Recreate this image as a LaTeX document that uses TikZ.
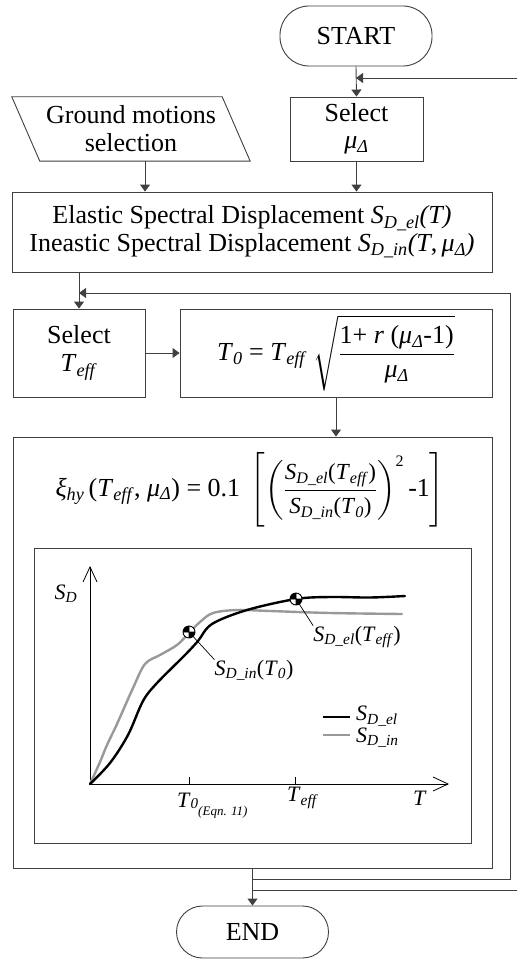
\documentclass[tikz,border=0pt]{standalone}
\usepackage{fontspec}
\usepackage{amsmath}
\setmainfont{Liberation Serif}
\usetikzlibrary{arrows.meta}
\newcommand{\SDel}{\textit{S}\textsubscript{\textit{D\_el}}}
\newcommand{\SDin}{\textit{S}\textsubscript{\textit{D\_in}}}
\newcommand{\Teff}{\textit{T}\textsubscript{\textit{eff}}}
\newcommand{\Tzero}{\textit{T}\textsubscript{\textit{0}}}
\newcommand{\muD}{\textit{μ}\textsubscript{\textit{Δ}}}
\definecolor{linec}{gray}{0.25}
\definecolor{curveg}{gray}{0.6}
\begin{document}
\begin{tikzpicture}[x=1pt,y=-1pt,
  line/.style={draw=linec, line width=0.9pt},
  arr/.style={line, -{Triangle[width=10pt,length=7pt]}},
  box/.style={line, rectangle, inner sep=0pt, align=center, font=\fontsize{26}{28}\selectfont},
  txt/.style={inner sep=0pt, align=center, font=\fontsize{26}{28}\selectfont},
  lab/.style={inner sep=0pt, font=\fontsize{22}{24}\selectfont},
  ax/.style={draw=black, line width=0.8pt, -{Straight Barb[length=15pt,width=14pt]}},
  curvek/.style={black, line width=2.4pt, line cap=round},
  curvegr/.style={curveg, line width=2.4pt, line cap=round},
  qmark/.pic={
    \fill[white] (0,0) circle[radius=6];
    \fill[black] (0,0) -- (-6,0) arc[start angle=180,end angle=270,radius=6] -- cycle;
    \fill[black] (0,0) -- (6,0) arc[start angle=0,end angle=90,radius=6] -- cycle;
    \draw[black, line width=0.9pt] (0,0) circle[radius=6] (-6,0) -- (6,0) (0,-6) -- (0,6);
  }
]
\useasboundingbox (0,0) rectangle (517,960);
\fill[white] (0,0) rectangle (517,960);

% flow nodes
\node[box, rounded corners=29pt, minimum width=152pt, minimum height=60pt] (start) at (356,36) {START};
\node[box, minimum width=133pt, minimum height=64pt] (selmu) at (356.5,129) {Select\\[-1pt]\muD};
\node[txt, minimum width=210pt, minimum height=64pt] (gm) at (131,129) {Ground motions\\selection};
\draw[line] ([xshift=-14pt]gm.north west) -- ([xshift=-14pt]gm.north east) -- ([xshift=14pt]gm.south east) -- ([xshift=14pt]gm.south west) -- cycle;
\node[box, minimum width=480pt, minimum height=80pt] (elastic) at (252,232) {Elastic Spectral Displacement \SDel\textit{(T)}\\Ineastic Spectral Displacement \SDin\textit{(T},\,\muD\textit{)}};
\node[box, minimum width=132pt, minimum height=88pt] (selT) at (79,353) {Select\\\Teff};
\node[box, minimum width=312pt, minimum height=88pt] (T0box) at (336,353) {$\text{\Tzero\ = \Teff}\ \sqrt{\dfrac{\text{1+ \textit{r} (\muD-1)}}{\text{\muD}}}$};
\node[box, minimum width=479pt, minimum height=431pt] (bigbox) at (252.5,652.5) {};
\node[txt] (xieq) at (250,490) {$\text{\textit{ξ}\textsubscript{\textit{hy}}\,(\Teff, \muD) = 0.1}\ \left[\left(\dfrac{\text{\fontsize{23}{25}\selectfont\SDel(\Teff)}}{\text{\fontsize{23}{25}\selectfont\SDin(\Tzero)}}\right)^{\text{\fontsize{16}{16}\selectfont 2}}\text{-1}\right]$};
\node[box, minimum width=152pt, minimum height=52pt, rounded corners=26pt] (end) at (252.5,932) {END};

% connectors
\coordinate (fbin) at (517,78);
\coordinate (fbout) at (517,890);
\coordinate (j1) at (252.5,879);
\coordinate (j2) at (252.5,890);
\coordinate (rc) at (510,293);
\draw[arr] (start.south) -- (selmu.north);
\draw[arr] (fbin) -- (fbin -| start.south);
\draw[arr] ([xshift=14pt]gm.south) -- ([xshift=14pt]gm.south |- elastic.north);
\draw[arr] (selmu.south) -- (selmu.south |- elastic.north);
\draw[arr] (elastic.south -| selT.north) -- (selT.north);
\draw[arr] (j1) -| (rc) -- (rc -| selT.north);
\draw[arr] (selT.east) -- (T0box.west);
\draw[arr] (T0box.south) -- (T0box.south |- bigbox.north);
\draw[arr] (bigbox.south) -- (end.north);
\draw[line] (j2) -- (fbout);

% plot
\node[line, rectangle, inner sep=0pt, minimum width=437pt, minimum height=295pt] (plotbox) at (252.5,695.5) {};
\coordinate (O) at (90,784);
\coordinate (ytop) at (90,566);
\coordinate (xend) at (449,784);
\draw[ax] (O) -- (ytop);
\draw[ax] (O) -- (xend);
\draw[black, line width=0.8pt] (189,784) -- (189,777) (295,784) -- (295,777);

\draw[curvegr] plot[smooth, tension=0.55] coordinates {(90,784) (100,762) (107,745) (117,724) (133,688) (145,664) (160,655) (177,645) (189,633) (200,622) (213,613) (237,610) (270,611) (330,613) (402,614)};
\draw[curvek] plot[smooth, tension=0.55] coordinates {(90,784) (110,763) (128,735) (143,701) (157,683) (185,655) (198,641) (212,624) (247,610) (296,599) (330,597) (370,597.5) (405,596)};

\coordinate (m1) at (189,632);
\coordinate (m2) at (296,599);
\node[lab] (lin) at (254,670) {\SDin(\Tzero)};
\node[lab] (lel) at (357,637) {\SDel(\Teff)};
\draw[black, line width=0.7pt] (m1) -- (lin.north west);
\draw[black, line width=0.7pt] (m2) -- (lel.north west);
\pic at (m1) {qmark};
\pic at (m2) {qmark};

\coordinate (lg1a) at (323,717);
\coordinate (lg1b) at (350,717);
\coordinate (lg2a) at (323,735);
\coordinate (lg2b) at (350,735);
\draw[curvek, line cap=butt] (lg1a) -- (lg1b);
\draw[curvegr, line cap=butt] (lg2a) -- (lg2b);
\node[lab, anchor=west] (leg1) at (356,716) {\SDel};
\node[lab, anchor=west] (leg2) at (356,738) {\SDin};

\node[lab] (sdl) at (66,594) {\textit{S}\textsubscript{\textit{D}}};
\node[lab, anchor=base west] (t0l) at (177,807) {\textit{T}\raisebox{-1pt}{\fontsize{15}{15}\selectfont\textit{0}}\raisebox{-8pt}{\fontsize{13}{13}\selectfont\textit{(Eqn. 11)}}};
\node[lab, anchor=west] (teffl) at (287,798) {\Teff};
\node[lab] (tl) at (420,798) {\textit{T}};
\end{tikzpicture}
\end{document}
